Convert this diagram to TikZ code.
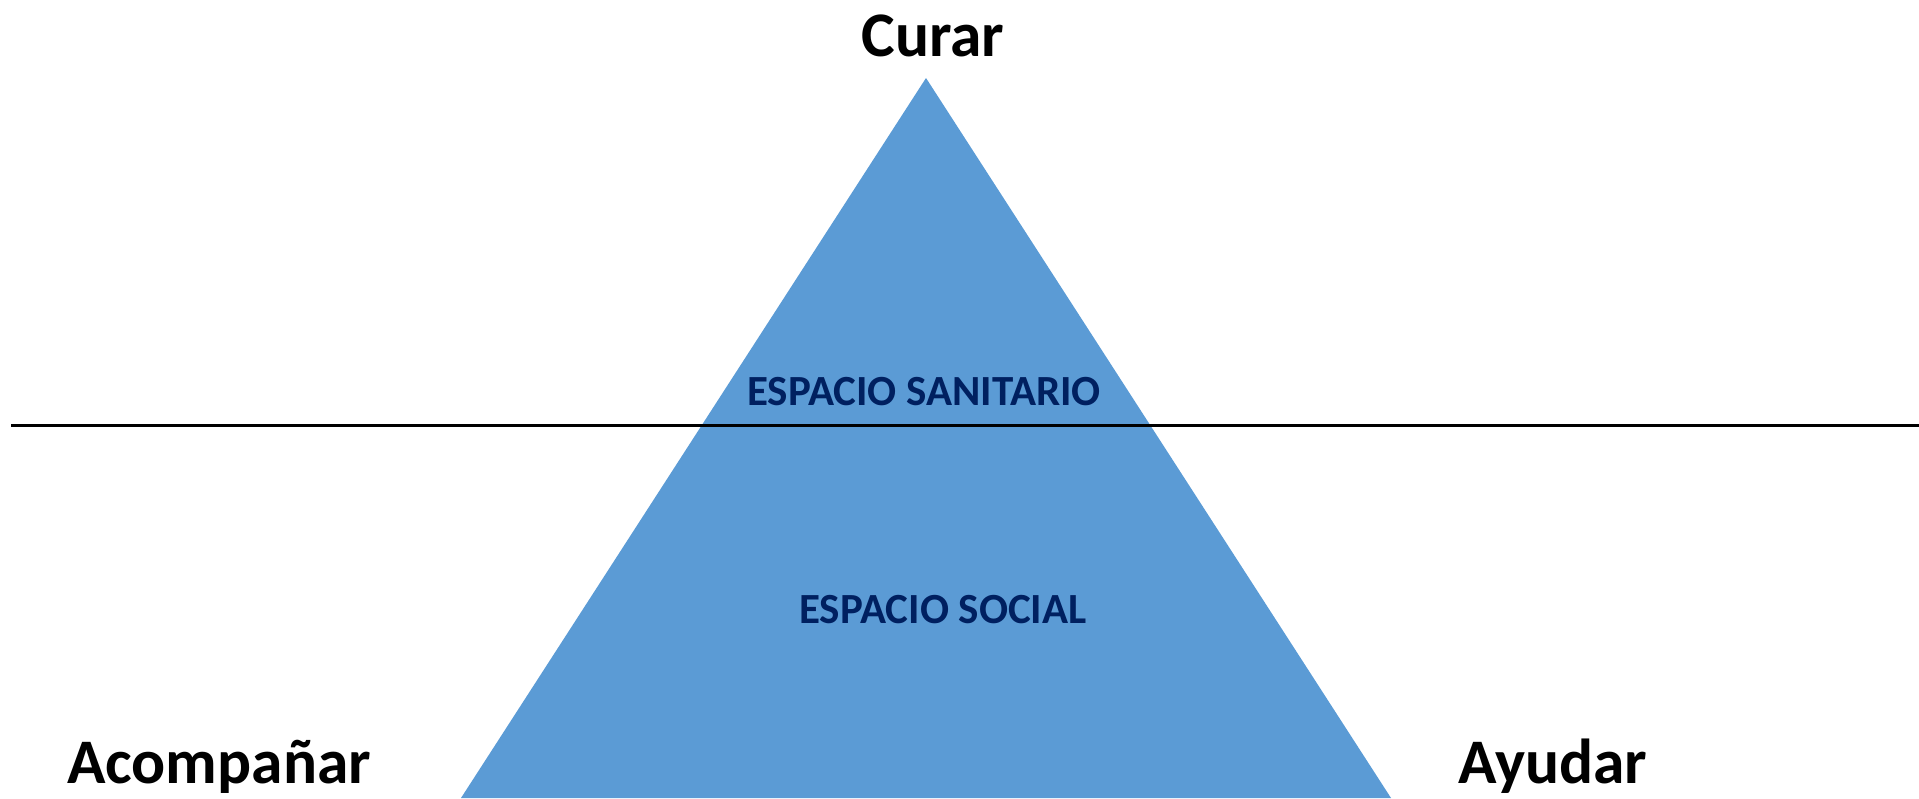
\documentclass[tikz,border=0pt]{standalone}
\usepackage{fontspec}
\setmainfont{Carlito}
\definecolor{triblue}{HTML}{5B9BD5}
\definecolor{navytext}{HTML}{002060}
\begin{document}
\begin{tikzpicture}[x=1pt,y=-1pt,
  bigword/.style={font=\bfseries\fontsize{63.5}{76}\selectfont, text=black, inner sep=0pt, anchor=base},
  zone/.style={font=\bfseries\fontsize{43}{51}\selectfont, text=navytext, inner sep=0pt, anchor=base}]
\useasboundingbox (0,0) rectangle (1919,798);
\coordinate (apex) at (926,78);
\coordinate (bl) at (461,798);
\coordinate (br) at (1391,798);
\fill[triblue] (apex) -- (bl) -- (br) -- cycle;
\coordinate (lineL) at (11,425);
\coordinate (lineR) at (1919,425);
\draw[line width=3pt] (lineL) -- (lineR);
\node[bigword] (curar) at (933,56) {Curar};
\node[bigword] (acomp) at (219,783) {Acompañar};
\node[bigword] (ayudar) at (1553,783) {Ayudar};
\node[zone] (sanit) at (924,405) {ESPACIO SANITARIO};
\node[zone] (social) at (943,623) {ESPACIO SOCIAL};
\end{tikzpicture}
\end{document}
